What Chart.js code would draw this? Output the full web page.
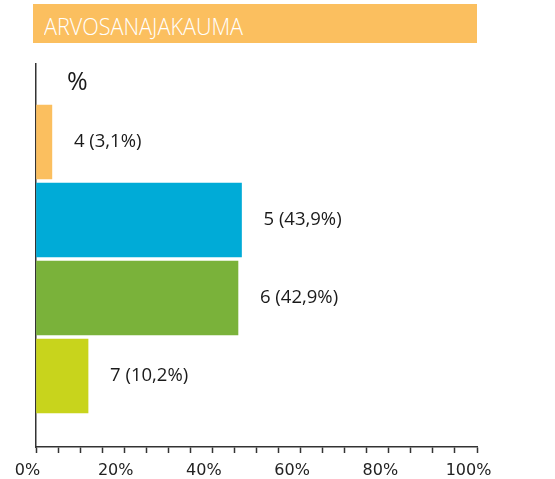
<!DOCTYPE html>
<html>
<head>
<meta charset="utf-8">
<script src="https://cdn.jsdelivr.net/npm/chart.js@4.4.1/dist/chart.umd.min.js"></script>
<style>
  html, body { margin: 0; padding: 0; background: #fff; }
  #wrap { position: relative; width: 555px; height: 479px; }
  #otsikko {
    position: absolute; left: 33px; top: 4px; width: 444px; height: 39px;
    background: #fbbf5f;
  }
  #otsikko span {
    position: absolute; left: 11px; top: 5px;
    font-family: "Open Sans", sans-serif; font-weight: 300; font-size: 24px;
    color: #fff; transform: scaleX(0.9); transform-origin: left top;
    white-space: nowrap;
  }
  #prosentti {
    position: absolute; left: 67px; top: 63px;
    font-family: "Open Sans", sans-serif; font-size: 25px; color: #1a1a1a;
  }
  canvas { position: absolute; left: 0; top: 0; }
</style>
</head>
<body>
<div id="wrap">
  <canvas id="myChart" width="555" height="479"></canvas>
  <div id="otsikko"><span>ARVOSANAJAKAUMA</span></div>
  <div id="prosentti">%</div>
</div>
<script>
let arvosanat = ["4", "5", "6", "7"];
let rivit = [1, 2, 3, 4];
// palkkien pituudet luettu akselilta
let palkit = [3.6, 46.6, 45.8, 11.8];
// kuvassa näkyvät osuudet
let osuudet = ["3,1", "43,9", "42,9", "10,2"];
let varit = ["#fbbf5f", "#00abd7", "#7ab23a", "#c8d41c"];
let asteikko = [0, 20, 40, 60, 80, 100];

let pisteet = [];
for (let i = 0; i < palkit.length; i++) {
    pisteet.push({ x: palkit[i], y: rivit[i] });
}

const arvoTekstit = {
    id: "arvoTekstit",
    afterDatasetsDraw(chart) {
        const ctx = chart.ctx;
        const meta = chart.getDatasetMeta(0);
        ctx.save();
        ctx.font = '18.5px "Open Sans"';
        ctx.fillStyle = "#1a1a1a";
        ctx.textBaseline = "middle";
        ctx.textAlign = "left";
        meta.data.forEach(function (bar, i) {
            ctx.fillText(arvosanat[i] + " (" + osuudet[i] + "%)", bar.x + 22, bar.y);
        });
        ctx.restore();
    }
};

const ctx = document.getElementById("myChart").getContext("2d");
const myChart = new Chart(ctx, {
    type: "bar",
    data: {
        datasets: [{
            data: pisteet,
            backgroundColor: varit,
            borderWidth: 0,
            barThickness: 74
        }]
    },
    options: {
        indexAxis: "y",
        responsive: false,
        animation: false,
        layout: { padding: { left: 36, right: 78, top: 64, bottom: 0 } },
        plugins: { legend: { display: false }, tooltip: { enabled: false } },
        scales: {
            x: {
                type: "linear",
                min: 0,
                max: 100,
                border: { display: true, color: "#333", width: 1.5 },
                grid: { drawOnChartArea: false, color: "#333", tickLength: 6, tickWidth: 1.5 },
                ticks: {
                    stepSize: 5,
                    padding: 8,
                    labelOffset: -8.5,
                    autoSkip: false,
                    maxRotation: 0,
                    minRotation: 0,
                    color: "#222",
                    font: { family: "DejaVu Sans", size: 16 },
                    callback: function (v) {
                        return asteikko.includes(v) ? v + "%" : "";
                    }
                },
                afterFit: function (scale) { scale.height = 32; }
            },
            y: {
                type: "linear",
                min: 0,
                max: 4.91,
                reverse: true,
                offset: false,
                border: { display: true, color: "#333", width: 1.5 },
                grid: { display: false, offset: false },
                ticks: { display: false },
                afterFit: function (scale) { scale.width = 0; }
            }
        }
    },
    plugins: [arvoTekstit]
});
</script>
</body>
</html>
